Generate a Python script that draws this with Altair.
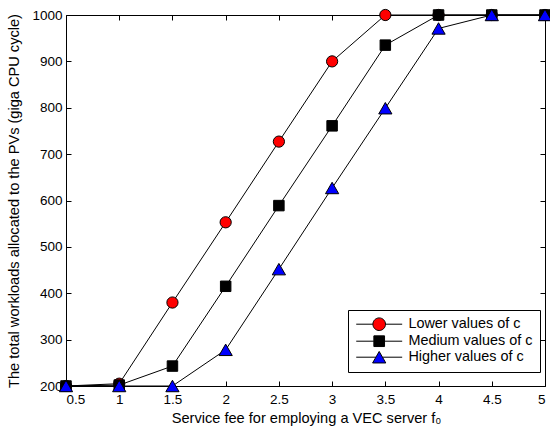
import altair as alt
import pandas as pd

fees = [0.5, 1, 1.5, 2, 2.5, 3, 3.5, 4, 4.5, 5]
lower = [200, 205, 380, 553, 727, 900, 1000, 1000, 1000, 1000]
medium = [200, 202, 243, 415, 589, 761, 935, 1000, 1000, 1000]
higher = [200, 200, 200, 278, 452, 627, 799, 971, 1000, 1000]
series_names = ["Lower values of c", "Medium values of c", "Higher values of c"]
fill_colors = ["#ff0000", "#000000", "#0000ff"]
edge_colors = ["#000000", "#000000", "#000000"]
x_ticks = [0.5, 1, 1.5, 2, 2.5, 3, 3.5, 4, 4.5, 5]
y_ticks = [200, 300, 400, 500, 600, 700, 800, 900, 1000]

rows = []
for name, vals in zip(series_names, [lower, medium, higher]):
    for f, v in zip(fees, vals):
        rows.append({"fee": f, "load": v, "series": name})
df = pd.DataFrame(rows)
legend_df = pd.DataFrame({"label": series_names})

FONT = "Liberation Sans"
xs = alt.Scale(domain=[0.5, 5], nice=False, zero=False)
ys = alt.Scale(domain=[200, 1000], nice=False, zero=False)

x_main = alt.X("fee:Q", scale=xs, axis=alt.Axis(
    values=x_ticks, format="~g", title="Service fee for employing a VEC server f\u2080",
    orient="bottom", titleFontSize=14.6, titleFont=FONT, titleFontWeight="normal",
    titlePadding=5, titleX=240, titleAlign="center"))
y_main = alt.Y("load:Q", scale=ys, axis=alt.Axis(
    values=y_ticks, format="d", title="The total workloads allocated to the PVs (giga CPU cycle)",
    orient="left", titleFontSize=14.6, titleFont=FONT, titleFontWeight="normal",
    titlePadding=10))

base = alt.Chart(df)
lines = base.mark_line(color="black", strokeWidth=1).encode(
    x=x_main, y=y_main, detail="series:N")

shapes = ["circle", "square", "triangle-up"]
sizes = [126, 110, 175]
point_layers = []
for i, (name, shp, col, sz) in enumerate(zip(series_names, shapes, fill_colors, sizes)):
    if i == 0:
        xe = alt.X("fee:Q", scale=xs, axis=alt.Axis(values=x_ticks, orient="top", labels=False, title=None))
        ye = alt.Y("load:Q", scale=ys, axis=alt.Axis(values=y_ticks, orient="right", labels=False, title=None))
    else:
        xe = alt.X("fee:Q", scale=xs, axis=None)
        ye = alt.Y("load:Q", scale=ys, axis=None)
    p = base.transform_filter(alt.datum.series == name).mark_point(
        filled=True, shape=shp, fill=col, stroke="black", strokeWidth=1,
        opacity=1, size=sz).encode(x=xe, y=ye)
    point_layers.append(p)

legend_paths = [
    "M-3.83,0H-1.05M1.05,0H3.83M-1.05,0A1.05,1.05,0,1,1,1.05,0A1.05,1.05,0,1,1,-1.05,0Z",
    "M-3.83,0H-0.89M0.89,0H3.83M-0.89,-0.89H0.89V0.89H-0.89Z",
    "M-3.83,0H-0.55M0.55,0H3.83M0,-0.96L1.1,0.96H-1.1Z",
]
legend_props = dict(title=None, orient="none", legendX=282, legendY=295,
                    symbolSize=144, symbolOpacity=1,
                    symbolFillColor="white", symbolStrokeColor="black", symbolStrokeWidth=1,
                    labelFont=FONT, labelFontSize=14.4, labelColor="black",
                    symbolOffset=17, labelOffset=22,
                    padding=7, rowPadding=0,
                    strokeColor="black", fillColor="white")
legend_layer = alt.Chart(legend_df).mark_point(
    filled=True, opacity=0, strokeWidth=1, size=144).encode(
    fill=alt.Fill("label:N", scale=alt.Scale(domain=series_names, range=fill_colors),
                  legend=alt.Legend(**legend_props)),
    stroke=alt.Stroke("label:N", scale=alt.Scale(domain=series_names, range=edge_colors),
                      legend=alt.Legend(**legend_props)),
    shape=alt.Shape("label:N", scale=alt.Scale(domain=series_names, range=legend_paths),
                    legend=alt.Legend(**legend_props)),
)

chart = alt.layer(lines, *point_layers, legend_layer).resolve_axis(
    x="independent", y="independent").properties(
    width=479, height=371,
    padding={"left": 66, "top": 15, "right": 5, "bottom": 44},
    autosize="none",
).configure_view(stroke="black", strokeWidth=1).configure_axis(
    domain=False, grid=False, tickColor="black", tickSize=5, offset=-5,
    labelFont=FONT, labelFontSize=13.5, labelColor="black", labelPadding=6,
    titleColor="black", tickWidth=1,
).configure_axisLeft(labelPadding=4)

chart.save("out.html", embed_options={"renderer": "svg", "actions": False})
